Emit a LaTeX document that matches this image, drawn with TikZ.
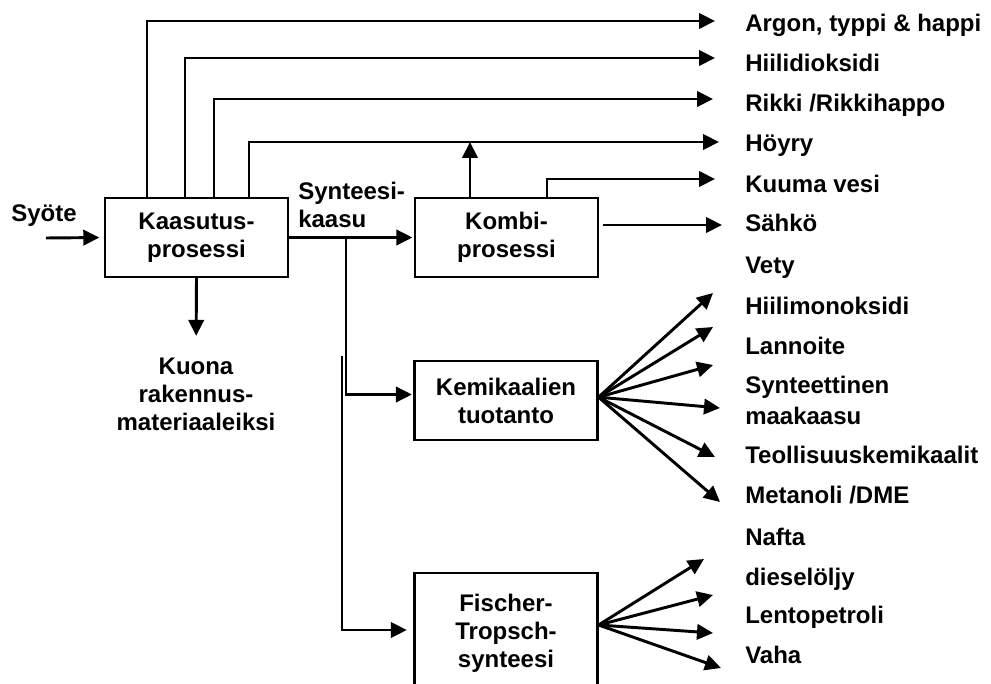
\documentclass[tikz,border=0pt]{standalone}
\usepackage{fontspec}
\setmainfont{Liberation Sans}
\usetikzlibrary{arrows.meta,positioning}
\newcommand{\diafont}{\fontsize{18}{21}\selectfont\bfseries}
\tikzset{
    box/.style={
        draw,
        rectangle,
        align=center,
        minimum width=137pt,
        minimum height=59pt,
        line width=1.8pt,
        inner sep=2pt,
        font=\diafont
    },
    flow/.style={
        -{Triangle[length=12pt,width=11.5pt]},
        line width=2.2pt
    },
    product/.style={
        anchor=base west,
        inner sep=0pt,
        font=\diafont
    },
    note/.style={
        inner sep=0pt,
        font=\diafont
    }
}

\begin{document}
\begin{tikzpicture}[x=0.75pt,y=-0.75pt]
    \clip (0,0) rectangle (991,684);

    % Process boxes
    \node[box] (kaasu) at (196.5,237.5) {Kaasutus-\\prosessi};
    \node[box] (kombi) at (506.5,237.5) {Kombi-\\prosessi};
    \node[box] (kemi) at (506,400.5) {Kemikaalien\\tuotanto};
    \node[box, minimum height=90pt] (fischer) at (506,633) {Fischer-\\Tropsch-\\synteesi};

    % Free texts
    \node[note, anchor=base west] (syote) at (11,222) {Syöte};
    \node[note, anchor=base west, align=left] (synkaasu) at (298,228) {Synteesi-\\kaasu};
    \node[note, anchor=base, align=center] (kuona) at (196,430) {Kuona\\rakennus-\\materiaaleiksi};

    % Products
    \node[product] (argon) at (745,32) {Argon, typpi \& happi};
    \node[product] (co2) at (745,72) {Hiilidioksidi};
    \node[product] (rikki) at (745,112) {Rikki /Rikkihappo};
    \node[product] (hoyry) at (745,152) {Höyry};
    \node[product] (kuuma) at (745,193) {Kuuma vesi};
    \node[product] (sahko) at (745,232) {Sähkö};
    \node[product] (vety) at (745,273) {Vety};
    \node[product] (co) at (745,314) {Hiilimonoksidi};
    \node[product] (lannoite) at (745,354) {Lannoite};
    \node[product] (snk) at (745,393) {Synteettinen};
    \node[product] (maakaasu) at (745,424) {maakaasu};
    \node[product] (teoll) at (745,463) {Teollisuuskemikaalit};
    \node[product] (metanoli) at (745,503) {Metanoli /DME};
    \node[product] (nafta) at (745,545) {Nafta};
    \node[product] (diesel) at (745,585) {dieselöljy};
    \node[product] (lento) at (745,623) {Lentopetroli};
    \node[product] (vaha) at (745,663) {Vaha};

    % Arrow ends
    \coordinate (tArgon) at (715,21);
    \coordinate (tCo2) at (715,58);
    \coordinate (tRikki) at (713,99);
    \coordinate (tHoyry) at (719,142);
    \coordinate (tKuuma) at (715,179);
    \coordinate (tSahko) at (722,225);
    \coordinate (inlet) at (46,238);
    \coordinate (split) at (346,238);
    \coordinate (ftop) at (342,356);

    % Side streams of the gasifier
    \draw[flow] (kaasu.north -| 147,0) |- (tArgon);
    \draw[flow] (kaasu.north -| 185,0) |- (tCo2);
    \draw[flow] (kaasu.north -| 214,0) |- (tRikki);
    \draw[flow] (kaasu.north -| 249,0) |- (tHoyry);
    \draw[flow, shorten >=16pt] (kaasu.south) -- (kuona.north);
    \draw[flow, shorten >=3.5pt] (inlet) -- (kaasu.west);

    % Syngas routes
    \draw[flow, shorten >=1.2pt] (kaasu.east) -- (kombi.west);
    \draw[flow, shorten >=1.2pt] (split) |- ([yshift=4.5pt]kemi.west);
    \draw[flow, shorten >=5pt] (ftop) |- ([yshift=2.25pt]fischer.west);

    % Combined process
    \draw[flow] (kombi.north -| 470,0) -- (470,0 |- tHoyry);
    \draw[flow] (kombi.north -| 547,0) |- (tKuuma);
    \draw[flow, shorten <=3pt] (kombi.east |- tSahko) -- (tSahko);

    % Chemicals
    \draw[flow] ([yshift=2.5pt]kemi.east) -- (713,293);
    \draw[flow] ([yshift=2.5pt]kemi.east) -- (713,327);
    \draw[flow] ([yshift=2.5pt]kemi.east) -- (713,365);
    \draw[flow] ([yshift=2.5pt]kemi.east) -- (720,408);
    \draw[flow] ([yshift=2.5pt]kemi.east) -- (715,457);
    \draw[flow] ([yshift=2.5pt]kemi.east) -- (720,502);

    % Fischer-Tropsch
    \draw[flow] ([yshift=6pt]fischer.east) -- (704,559);
    \draw[flow] ([yshift=6pt]fischer.east) -- (713,595);
    \draw[flow] ([yshift=6pt]fischer.east) -- (713,633);
    \draw[flow] ([yshift=6pt]fischer.east) -- (721,668);
\end{tikzpicture}
\end{document}
